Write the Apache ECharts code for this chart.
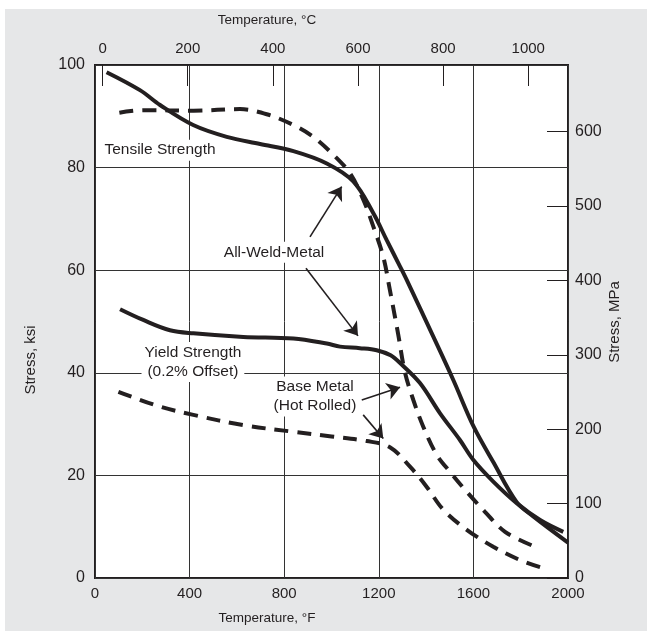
<!DOCTYPE html>
<html>
<head>
<meta charset="utf-8">
<script src="https://cdn.jsdelivr.net/npm/echarts@6/dist/echarts.min.js"></script>
<style>
html,body{margin:0;padding:0;background:#fff;}
#c{width:647px;height:631px;}
</style>
</head>
<body>
<div id="c"></div>
<script>
// Data: [temperature °F, stress ksi]
const weldTensile = [[49,98.6],[190,95.1],[275,92.2],[415,88.3],[557,86.0],[698,84.6],[839,83.2],[980,80.8],[1092,77.3],[1177,71.1],[1233,65.9],[1290,60.7],[1318,58.1],[1431,47.0],[1515,38.6],[1600,29.6],[1684,22.6],[1783,14.8],[1853,12.0],[2000,6.9]];
const baseTensile = [[103,90.7],[204,91.2],[416,91.1],[613,91.4],[726,90.4],[839,88.3],[923,86.0],[1008,82.5],[1078,78.9],[1135,73.7],[1177,68.5],[1219,62.6],[1247,56.1],[1282,47.5],[1310,40.2],[1346,34.7],[1388,29.5],[1445,24.0],[1501,20.7],[1572,16.8],[1649,12.9],[1734,9.0],[1850,6.3]];
const weldYield = [[106,52.4],[204,50.3],[317,48.3],[416,47.7],[627,47.0],[839,46.7],[980,45.7],[1036,45.1],[1120,44.8],[1191,44.4],[1250,43.4],[1290,41.9],[1374,38.0],[1459,32.1],[1543,26.9],[1600,23.0],[1684,18.8],[1783,14.6],[1882,11.3],[1980,9.0]];
const baseYield = [[99,36.3],[275,33.4],[416,31.8],[627,29.8],[839,28.5],[1000,27.6],[1149,26.7],[1247,25.5],[1332,21.7],[1402,17.8],[1473,13.3],[1572,9.4],[1684,6.1],[1797,3.5],[1896,1.9]];

const celsiusTicks = [0,200,400,600,800,1000];
const mpaTicks = [0,100,200,300,400,500,600];

// Annotations (data coordinates)
const arrows = [
  [[909,66.5],[1043,76.3]],
  [[892,60.4],[1112,47.2]],
  [[1128,34.7],[1290,37.2]],
  [[1134,31.8],[1219,27.2]]
];
const notes = [
  {text:'Tensile Strength', coord:[25,83.4], align:'left'},
  {text:'All-Weld-Metal', coord:[757,63.5], align:'center'},
  {text:'Yield Strength\n(0.2% Offset)', coord:[414,42.1], align:'center'},
  {text:'Base Metal\n(Hot Rolled)', coord:[930,35.4], align:'center'}
];

const INK = '#231f20';
const FONT = '"Liberation Sans", Arial, Helvetica, sans-serif';
const f2c = f => (f - 32) / 1.8;
const KSI_TO_MPA = 6.894757;
const plain = v => String(Math.round(v));

const chart = echarts.init(document.getElementById('c'), null, {renderer:'canvas'});

const lineSeries = (name, data, dashed) => ({
  name, type:'line', data, xAxisIndex:0, yAxisIndex:0,
  smooth:0.35, symbol:'none', animation:false, silent:true,
  lineStyle:{color:INK, width:4, type: dashed ? [14,9] : 'solid', cap:'butt'}
});

const s3 = lineSeries('weldYield', weldYield, false);
s3.markLine = {
  silent:true, animation:false,
  symbol:['none','arrow'], symbolSize:13,
  itemStyle:{color:INK},
  lineStyle:{color:INK, width:1.6, type:'solid'},
  label:{show:false},
  data: arrows.map(a => [{coord:a[0]},{coord:a[1]}])
};
s3.markPoint = {
  silent:true, animation:false,
  symbol:'circle', symbolSize:1,
  itemStyle:{color:'rgba(0,0,0,0)'},
  data: notes.map(n => ({
    coord:n.coord, value:n.text,
    label:{
      show:true, position: n.align==='left' ? 'right' : 'inside', distance:0,
      formatter:n.text, color:INK, fontSize:15.5, fontFamily:FONT,
      align: n.align==='left' ? 'left' : 'center', lineHeight:19,
      backgroundColor:'#fff', padding:[1,3]
    }
  }))
};

const option = {
  backgroundColor:'#fff',
  animation:false,
  textStyle:{fontFamily:FONT, color:INK},
  graphic:[
    {type:'rect', z:-100, silent:true, shape:{x:5,y:9,width:642,height:622}, style:{fill:'#e6e7e8'}},
    {type:'text', silent:true, x:267, y:20, style:{text:'Temperature, °C', font:'13.5px '+FONT, fill:INK, textAlign:'center', textVerticalAlign:'middle'}},
    {type:'text', silent:true, x:267, y:618, style:{text:'Temperature, °F', font:'13.5px '+FONT, fill:INK, textAlign:'center', textVerticalAlign:'middle'}},
    {type:'text', silent:true, x:31, y:360, rotation:Math.PI/2, style:{text:'Stress, ksi', font:'15px '+FONT, fill:INK, textAlign:'center', textVerticalAlign:'middle'}},
    {type:'text', silent:true, x:615, y:322, rotation:Math.PI/2, style:{text:'Stress, MPa', font:'15px '+FONT, fill:INK, textAlign:'center', textVerticalAlign:'middle'}}
  ],
  grid:{left:95, right:79, top:65, bottom:53, show:true, backgroundColor:'#fff', borderColor:INK, borderWidth:2},
  xAxis:[
    {type:'value', position:'bottom', min:0, max:2000, interval:400,
     axisLine:{show:false, onZero:false}, axisTick:{show:false},
     axisLabel:{color:INK, fontSize:15, fontFamily:FONT, margin:8, formatter:plain},
     splitLine:{show:true, lineStyle:{color:'#333', width:1}}},
    {type:'value', position:'top', min:f2c(0), max:f2c(2000),
     axisLine:{show:false, onZero:false},
     axisTick:{show:true, inside:true, length:21, customValues:celsiusTicks, lineStyle:{color:INK, width:1}},
     axisLabel:{show:true, color:INK, fontSize:15, fontFamily:FONT, margin:9, customValues:celsiusTicks, formatter:plain},
     splitLine:{show:false}}
  ],
  yAxis:[
    {type:'value', position:'left', min:0, max:100, interval:20,
     axisLine:{show:false, onZero:false}, axisTick:{show:false},
     axisLabel:{color:INK, fontSize:16, fontFamily:FONT, margin:10, formatter:plain},
     splitLine:{show:true, lineStyle:{color:'#333', width:1}}},
    {type:'value', position:'right', min:0, max:100*KSI_TO_MPA,
     axisLine:{show:false, onZero:false},
     axisTick:{show:true, inside:true, length:21, customValues:mpaTicks, lineStyle:{color:INK, width:1}},
     axisLabel:{show:true, color:INK, fontSize:16, fontFamily:FONT, margin:7, customValues:mpaTicks, formatter:plain},
     splitLine:{show:false}}
  ],
  series:[
    lineSeries('weldTensile', weldTensile, false),
    lineSeries('baseTensile', baseTensile, true),
    s3,
    lineSeries('baseYield', baseYield, true)
  ]
};
chart.setOption(option);
</script>
</body>
</html>
